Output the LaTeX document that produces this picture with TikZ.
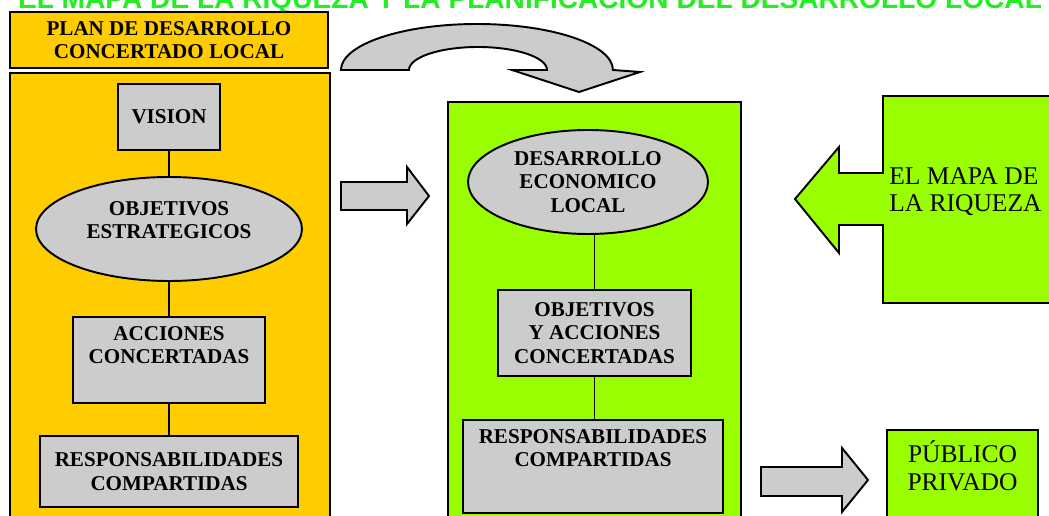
\documentclass[tikz,border=0pt]{standalone}
\usepackage{fontspec}
\setmainfont{Liberation Serif}
\newfontfamily\titlefont{Liberation Sans}
\usetikzlibrary{shapes.geometric}
\definecolor{plangold}{HTML}{FFCC00}
\definecolor{mapgreen}{HTML}{99FF00}
\definecolor{boxgray}{HTML}{CCCCCC}
\definecolor{titlegreen}{HTML}{22EE22}
\tikzset{
  stagebox/.style={draw, line width=1.1pt, fill=boxgray, align=center,
    font=\fontsize{12}{13.5}\selectfont\bfseries, inner sep=0pt},
  stageoval/.style={stagebox, ellipse},
  toptext/.style={label={[anchor=north, align=center,
    font=\fontsize{12}{13.5}\selectfont\bfseries, yshift=-2.3pt]north:#1}},
  uptext/.style={label={[align=center,
    font=\fontsize{12}{13.5}\selectfont\bfseries, yshift=5pt]center:#1}},
  blockarrow/.style={draw, line width=1.1pt, fill=boxgray},
  link/.style={line width=0.8pt}
}

\begin{document}
\begin{tikzpicture}[x=0.02cm, y=-0.02cm]
  \useasboundingbox (0,0) rectangle (1049,516);
  \clip (0,0) rectangle (1049,516);

  % title, cut at the top
  \node[anchor=base, text=titlegreen, inner sep=0,
    font=\titlefont\bfseries\fontsize{16}{18}\selectfont] (title) at (530,9)
    {EL MAPA DE LA RIQUEZA Y LA PLANIFICACION DEL DESARROLLO LOCAL};

  % plan de desarrollo (left column)
  \node[stagebox, fill=plangold, minimum width=6.36cm, minimum height=1.12cm] (plan) at (169,40)
    {PLAN DE DESARROLLO\\CONCERTADO LOCAL};
  \node[draw, line width=1.1pt, fill=plangold, minimum width=6.4cm, minimum height=8.94cm] (plancol) at (170,296.5) {};
  \node[stagebox, minimum width=2.04cm, minimum height=1.32cm] (vision) at (169,117) {VISION};
  \node[stageoval, minimum width=5.32cm, minimum height=2.08cm, uptext={OBJETIVOS\\ESTRATEGICOS}] (objest) at (169,229) {};
  \node[stagebox, minimum width=3.84cm, minimum height=1.72cm, toptext={ACCIONES\\CONCERTADAS}] (acc) at (169,360) {};
  \node[stagebox, minimum width=5.16cm, minimum height=1.42cm] (respL) at (169,471.5) {RESPONSABILIDADES\\COMPARTIDAS};
  \draw[link] (vision) -- (objest);
  \draw[link] (objest) -- (acc);
  \draw[link] (acc) -- (respL);

  % desarrollo economico (middle column)
  \node[draw, line width=1.1pt, fill=mapgreen, minimum width=5.86cm, minimum height=8.56cm] (delcol) at (594.5,316) {};
  \node[stageoval, minimum width=4.8cm, minimum height=2.08cm] (del) at (588,182) {DESARROLLO\\ECONOMICO\\LOCAL};
  \node[stagebox, minimum width=3.86cm, minimum height=1.72cm] (objacc) at (594.5,333) {OBJETIVOS\\Y ACCIONES\\CONCERTADAS};
  \node[stagebox, minimum width=5.2cm, minimum height=1.86cm, toptext={RESPONSABILIDADES\\COMPARTIDAS}] (respR) at (593,466.5) {};
  \draw[link] (objacc.north |- del.south) -- (objacc.north);
  \draw[link] (objacc.south) -- (objacc.south |- respR.north);

  % arrows between the columns
  \draw[blockarrow] (341,182) -- (407,182) -- (407,167) -- (429,196) -- (407,224) -- (407,210) -- (341,210) -- cycle;
  \draw[blockarrow] (341,70) arc[start angle=180, end angle=0, x radius=2.72cm, y radius=0.92cm]
    -- (640,72) -- (579,92) -- (512,70) -- (547,70)
    arc[start angle=0, end angle=180, x radius=1.38cm, y radius=0.46cm] -- cycle;

  % el mapa de la riqueza
  \draw[blockarrow, fill=mapgreen] (1060,96) -- (883,96) -- (883,173) -- (839,173) -- (839,147) -- (795,199)
    -- (839,253) -- (839,225) -- (883,225) -- (883,303) -- (1060,303) -- cycle;
  \node[anchor=west, align=left, font=\fontsize{14.5}{15.5}\selectfont, inner sep=0] (mapa) at (889,192)
    {EL MAPA DE\\LA RIQUEZA};

  % publico privado
  \draw[blockarrow] (761,467) -- (842,467) -- (842,448) -- (868,480) -- (842,512) -- (842,496) -- (761,496) -- cycle;
  \node[draw, line width=1.1pt, fill=mapgreen, minimum width=3.02cm, minimum height=2cm,
    label={[anchor=north, align=center, font=\fontsize{14.5}{16}\selectfont, yshift=-2.8pt]north:PÚBLICO\\PRIVADO}]
    (sector) at (962.5,480) {};
\end{tikzpicture}
\end{document}
